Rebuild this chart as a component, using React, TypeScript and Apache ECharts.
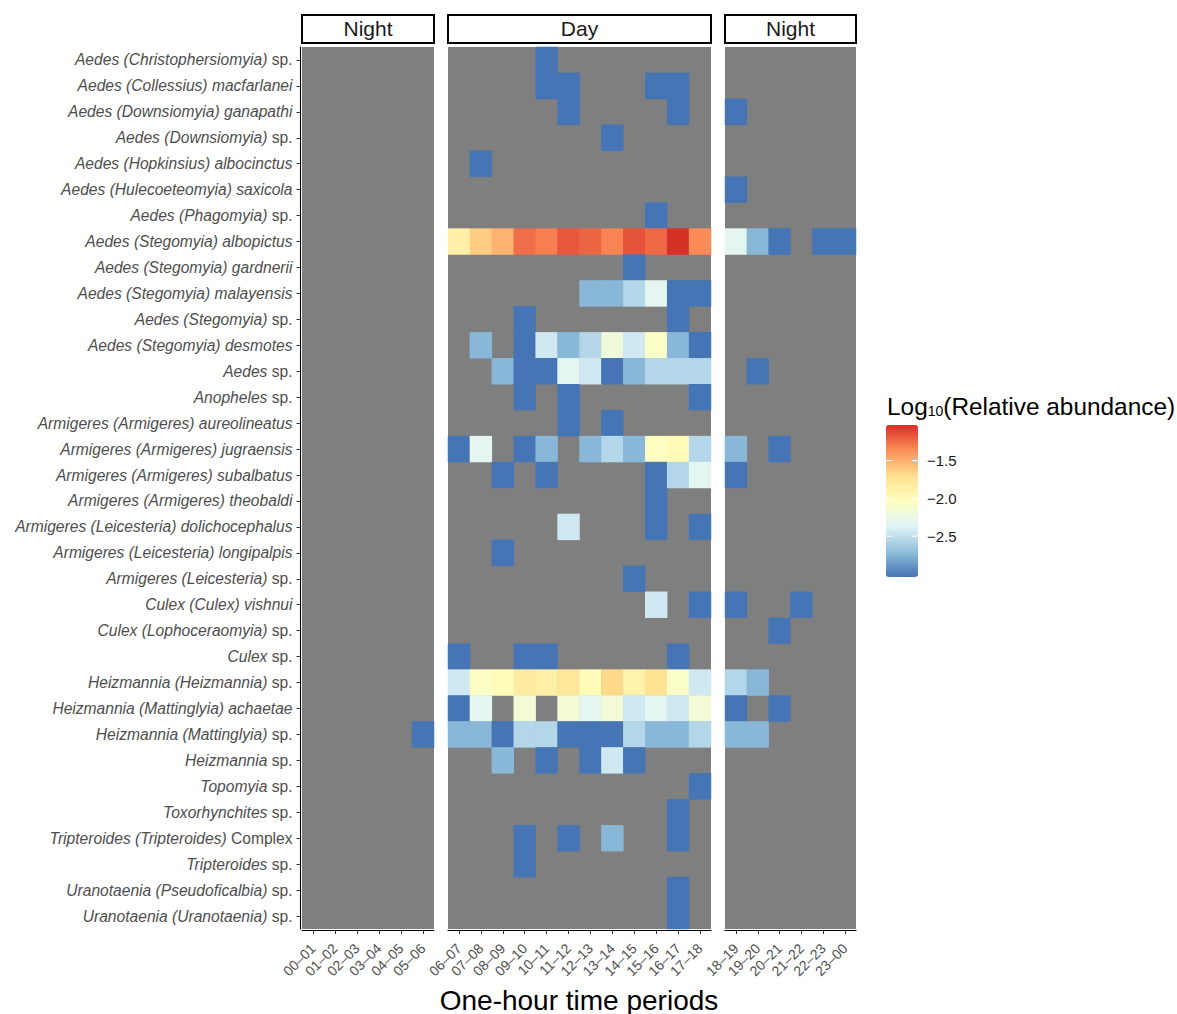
import React, { useEffect, useRef } from "react";
import * as echarts from "echarts";

const _ = null;

// ---------- categories ----------
const species: string[] = [
  "Aedes (Christophersiomyia) sp.",
  "Aedes (Collessius) macfarlanei",
  "Aedes (Downsiomyia) ganapathi",
  "Aedes (Downsiomyia) sp.",
  "Aedes (Hopkinsius) albocinctus",
  "Aedes (Hulecoeteomyia) saxicola",
  "Aedes (Phagomyia) sp.",
  "Aedes (Stegomyia) albopictus",
  "Aedes (Stegomyia) gardnerii",
  "Aedes (Stegomyia) malayensis",
  "Aedes (Stegomyia) sp.",
  "Aedes (Stegomyia) desmotes",
  "Aedes sp.",
  "Anopheles sp.",
  "Armigeres (Armigeres) aureolineatus",
  "Armigeres (Armigeres) jugraensis",
  "Armigeres (Armigeres) subalbatus",
  "Armigeres (Armigeres) theobaldi",
  "Armigeres (Leicesteria) dolichocephalus",
  "Armigeres (Leicesteria) longipalpis",
  "Armigeres (Leicesteria) sp.",
  "Culex (Culex) vishnui",
  "Culex (Lophoceraomyia) sp.",
  "Culex sp.",
  "Heizmannia (Heizmannia) sp.",
  "Heizmannia (Mattinglyia) achaetae",
  "Heizmannia (Mattinglyia) sp.",
  "Heizmannia sp.",
  "Topomyia sp.",
  "Toxorhynchites sp.",
  "Tripteroides (Tripteroides) Complex",
  "Tripteroides sp.",
  "Uranotaenia (Pseudoficalbia) sp.",
  "Uranotaenia (Uranotaenia) sp.",
];

const nightEarlyHours = ["00–01", "01–02", "02–03", "03–04", "04–05", "05–06"];
const dayHours = ["06–07", "07–08", "08–09", "09–10", "10–11", "11–12", "12–13", "13–14", "14–15", "15–16", "16–17", "17–18"];
const nightLateHours = ["18–19", "19–20", "20–21", "21–22", "22–23", "23–00"];
const facetTitles = ["Night", "Day", "Night"];
const xTitle = "One-hour time periods";

// ---------- values: log10(relative abundance), one row per species ----------
const nightEarlyValues: (number | null)[][] = [
  [_, _, _, _, _, _],
  [_, _, _, _, _, _],
  [_, _, _, _, _, _],
  [_, _, _, _, _, _],
  [_, _, _, _, _, _],
  [_, _, _, _, _, _],
  [_, _, _, _, _, _],
  [_, _, _, _, _, _],
  [_, _, _, _, _, _],
  [_, _, _, _, _, _],
  [_, _, _, _, _, _],
  [_, _, _, _, _, _],
  [_, _, _, _, _, _],
  [_, _, _, _, _, _],
  [_, _, _, _, _, _],
  [_, _, _, _, _, _],
  [_, _, _, _, _, _],
  [_, _, _, _, _, _],
  [_, _, _, _, _, _],
  [_, _, _, _, _, _],
  [_, _, _, _, _, _],
  [_, _, _, _, _, _],
  [_, _, _, _, _, _],
  [_, _, _, _, _, _],
  [_, _, _, _, _, _],
  [_, _, _, _, _, _],
  [_, _, _, _, _, -3.04],
  [_, _, _, _, _, _],
  [_, _, _, _, _, _],
  [_, _, _, _, _, _],
  [_, _, _, _, _, _],
  [_, _, _, _, _, _],
  [_, _, _, _, _, _],
  [_, _, _, _, _, _],
];

const dayValues: (number | null)[][] = [
  [_, _, _, _, -3.04, _, _, _, _, _, _, _],
  [_, _, _, _, -3.04, -3.04, _, _, _, -3.04, -3.04, _],
  [_, _, _, _, _, -3.04, _, _, _, _, -3.04, _],
  [_, _, _, _, _, _, _, -3.04, _, _, _, _],
  [_, -3.04, _, _, _, _, _, _, _, _, _, _],
  [_, _, _, _, _, _, _, _, _, _, _, _],
  [_, _, _, _, _, _, _, _, _, -3.04, _, _],
  [-1.88, -1.62, -1.52, -1.25, -1.31, -1.17, -1.22, -1.33, -1.16, -1.24, -1.03, -1.36],
  [_, _, _, _, _, _, _, _, -3.04, _, _, _],
  [_, _, _, _, _, _, -2.74, -2.74, -2.56, -2.32, -3.04, -3.04],
  [_, _, _, -3.04, _, _, _, _, _, _, -3.04, _],
  [_, -2.74, _, -3.04, -2.44, -2.74, -2.56, -2.2, -2.44, -2.08, -2.74, -3.04],
  [_, _, -2.74, -3.04, -3.04, -2.32, -2.44, -3.04, -2.74, -2.56, -2.56, -2.56],
  [_, _, _, -3.04, _, -3.04, _, _, _, _, _, -3.04],
  [_, _, _, _, _, -3.04, _, -3.04, _, _, _, _],
  [-3.04, -2.32, _, -3.04, -2.74, _, -2.74, -2.56, -2.74, -2.05, -1.98, -2.56],
  [_, _, -3.04, _, -3.04, _, _, _, _, -3.04, -2.56, -2.32],
  [_, _, _, _, _, _, _, _, _, -3.04, _, _],
  [_, _, _, _, _, -2.44, _, _, _, -3.04, _, -3.04],
  [_, _, -3.04, _, _, _, _, _, _, _, _, _],
  [_, _, _, _, _, _, _, _, -3.04, _, _, _],
  [_, _, _, _, _, _, _, _, _, -2.44, _, -3.04],
  [_, _, _, _, _, _, _, _, _, _, _, _],
  [-3.04, _, _, -3.04, -3.04, _, _, _, _, _, -3.04, _],
  [-2.44, -2.06, -1.99, -1.82, -1.87, -1.77, -1.99, -1.67, -1.9, -1.72, -2.09, -2.44],
  [-3.04, -2.32, _, -2.17, _, -2.17, -2.32, -2.17, -2.44, -2.32, -2.44, -2.17],
  [-2.74, -2.74, -3.04, -2.56, -2.56, -3.04, -3.04, -3.04, -2.56, -2.74, -2.74, -2.56],
  [_, _, -2.74, _, -3.04, _, -3.04, -2.44, -3.04, _, _, _],
  [_, _, _, _, _, _, _, _, _, _, _, -3.04],
  [_, _, _, _, _, _, _, _, _, _, -3.04, _],
  [_, _, _, -3.04, _, -3.04, _, -2.74, _, _, -3.04, _],
  [_, _, _, -3.04, _, _, _, _, _, _, _, _],
  [_, _, _, _, _, _, _, _, _, _, -3.04, _],
  [_, _, _, _, _, _, _, _, _, _, -3.04, _],
];

const nightLateValues: (number | null)[][] = [
  [_, _, _, _, _, _],
  [_, _, _, _, _, _],
  [-3.04, _, _, _, _, _],
  [_, _, _, _, _, _],
  [_, _, _, _, _, _],
  [-3.04, _, _, _, _, _],
  [_, _, _, _, _, _],
  [-2.32, -2.74, -3.04, _, -3.04, -3.04],
  [_, _, _, _, _, _],
  [_, _, _, _, _, _],
  [_, _, _, _, _, _],
  [_, _, _, _, _, _],
  [_, -3.04, _, _, _, _],
  [_, _, _, _, _, _],
  [_, _, _, _, _, _],
  [-2.74, _, -3.04, _, _, _],
  [-3.04, _, _, _, _, _],
  [_, _, _, _, _, _],
  [_, _, _, _, _, _],
  [_, _, _, _, _, _],
  [_, _, _, _, _, _],
  [-3.04, _, _, -3.04, _, _],
  [_, _, -3.04, _, _, _],
  [_, _, _, _, _, _],
  [-2.56, -2.74, _, _, _, _],
  [-3.04, _, -3.04, _, _, _],
  [-2.74, -2.74, _, _, _, _],
  [_, _, _, _, _, _],
  [_, _, _, _, _, _],
  [_, _, _, _, _, _],
  [_, _, _, _, _, _],
  [_, _, _, _, _, _],
  [_, _, _, _, _, _],
  [_, _, _, _, _, _],
];

// ---------- colour scale ----------
const scaleMin = -3.04;
const scaleMax = -1.03;
const legendTicks = [-1.5, -2.0, -2.5];
const legendTickLabels = ["−1.5", "−2.0", "−2.5"];
const palette = ["#4575B4", "#91BFDB", "#E0F3F8", "#FFFFBF", "#FEE090", "#FC8D59", "#D73027"];

// ---------- layout ----------
const FONT = "'Liberation Sans', Arial, Helvetica, sans-serif";
const PANEL_TOP = 47;
const PANEL_H = 882;
const panels = [
  { left: 302, width: 132 },
  { left: 448, width: 263 },
  { left: 725, width: 131 },
];
const BAR = { left: 886, top: 425, width: 32, height: 152 };
const AXIS_FS = 15.6;

function toCells(matrix: (number | null)[][]) {
  const out: [number, number, number][] = [];
  matrix.forEach((row, r) =>
    row.forEach((v, c) => {
      if (v !== null) out.push([c, r, v]);
    })
  );
  return out;
}

function speciesLabel(name: string) {
  const m = name.match(/^(.*) (sp\.|Complex)$/);
  if (m) return `{i|${m[1]}} {n|${m[2]}}`;
  return `{i|${name}}`;
}

export default function App() {
  const ref = useRef<HTMLDivElement>(null);

  useEffect(() => {
    document.body.style.margin = "0";
    if (!ref.current) return;
    const chart = echarts.init(ref.current, undefined, { renderer: "svg" });

    const hourSets = [nightEarlyHours, dayHours, nightLateHours];
    const valueSets = [nightEarlyValues, dayValues, nightLateValues];

    const grids = panels.map((p) => ({
      left: p.left,
      top: PANEL_TOP,
      width: p.width,
      height: PANEL_H,
      show: true,
      backgroundColor: "#7F7F7F",
      borderWidth: 0,
      containLabel: false,
      outerBoundsMode: "none",
    }));

    const xAxes = hourSets.map((hours, i) => ({
      type: "category",
      gridIndex: i,
      data: hours,
      offset: 1,
      axisLine: { show: true, lineStyle: { color: "#000", width: 1.1 } },
      axisTick: { show: true, length: 4, lineStyle: { color: "#333", width: 1 }, alignWithLabel: true },
      axisLabel: {
        interval: 0,
        rotate: 45,
        margin: 16,
        fontSize: 14,
        color: "#4D4D4D",
        fontFamily: FONT,
      },
      splitLine: { show: false },
    }));

    const yAxes = hourSets.map((_h, i) => ({
      type: "category",
      gridIndex: i,
      data: species,
      inverse: true,
      show: i === 0,
      offset: 1.5,
      axisLine: { show: true, lineStyle: { color: "#000", width: 1.1 } },
      axisTick: { show: true, length: 4, lineStyle: { color: "#333", width: 1 }, alignWithLabel: true },
      axisLabel: {
        interval: 0,
        margin: 8,
        fontSize: AXIS_FS,
        color: "#4D4D4D",
        fontFamily: FONT,
        formatter: (v: string) => speciesLabel(v),
        rich: {
          i: { fontStyle: "italic", fontSize: AXIS_FS, color: "#4D4D4D", fontFamily: FONT },
          n: { fontStyle: "normal", fontSize: AXIS_FS, color: "#4D4D4D", fontFamily: FONT },
        },
      },
      splitLine: { show: false },
    }));

    const series = valueSets.map((m, i) => ({
      type: "heatmap",
      xAxisIndex: i,
      yAxisIndex: i,
      data: toCells(m),
      itemStyle: { borderWidth: 0 },
      emphasis: { disabled: true },
    }));

    const valueToY = (v: number) => BAR.top + ((scaleMax - v) / (scaleMax - scaleMin)) * BAR.height;

    const graphics: any[] = [];
    panels.forEach((p, i) => {
      graphics.push({
        type: "rect",
        shape: { x: p.left, y: 15, width: p.width, height: 28 },
        style: { fill: "#fff", stroke: "#000", lineWidth: 2 },
      });
      graphics.push({
        type: "text",
        x: p.left + p.width / 2,
        y: 28.5,
        style: {
          text: facetTitles[i],
          fontSize: 21,
          fontFamily: FONT,
          fill: "#1A1A1A",
          align: "center",
          verticalAlign: "middle",
        },
      });
    });

    // x-axis title, centred under the three panels
    const last = panels[panels.length - 1];
    graphics.push({
      type: "text",
      x: (panels[0].left + last.left + last.width) / 2,
      y: 1000,
      style: {
        text: xTitle,
        fontSize: 28,
        fontFamily: FONT,
        fill: "#000",
        align: "center",
        verticalAlign: "middle",
      },
    });

    // legend title
    graphics.push({
      type: "text",
      x: 887,
      y: 406,
      style: {
        text: "{a|Log}{s|10}{a|(Relative abundance)}",
        verticalAlign: "middle",
        rich: {
          a: { fontSize: 24.4, fontFamily: FONT, fill: "#000" },
          s: { fontSize: 14, fontFamily: FONT, fill: "#000", verticalAlign: "bottom" },
        },
      },
    });

    legendTicks.forEach((t, k) => {
      const y = valueToY(t);
      graphics.push({
        type: "line",
        shape: { x1: BAR.left, y1: y, x2: BAR.left + 6.4, y2: y },
        style: { stroke: "#fff", lineWidth: 1 },
        z: 100,
      });
      graphics.push({
        type: "line",
        shape: { x1: BAR.left + BAR.width - 6.4, y1: y, x2: BAR.left + BAR.width, y2: y },
        style: { stroke: "#fff", lineWidth: 1 },
        z: 100,
      });
      graphics.push({
        type: "text",
        x: 927,
        y,
        style: {
          text: legendTickLabels[k],
          fontSize: 15,
          fontFamily: FONT,
          fill: "#1A1A1A",
          verticalAlign: "middle",
        },
      });
    });

    chart.setOption({
      animation: false,
      backgroundColor: "#fff",
      textStyle: { fontFamily: FONT },
      grid: grids,
      xAxis: xAxes,
      yAxis: yAxes,
      visualMap: {
        type: "continuous",
        min: scaleMin,
        max: scaleMax,
        seriesIndex: [0, 1, 2],
        inRange: { color: palette },
        calculable: false,
        hoverLink: false,
        left: BAR.left,
        top: BAR.top,
        itemWidth: BAR.width,
        itemHeight: BAR.height,
        padding: 0,
        orient: "vertical",
        show: true,
      },
      series,
      graphic: graphics,
    });

    return () => chart.dispose();
  }, []);

  return <div ref={ref} style={{ width: 1177, height: 1014 }} />;
}
